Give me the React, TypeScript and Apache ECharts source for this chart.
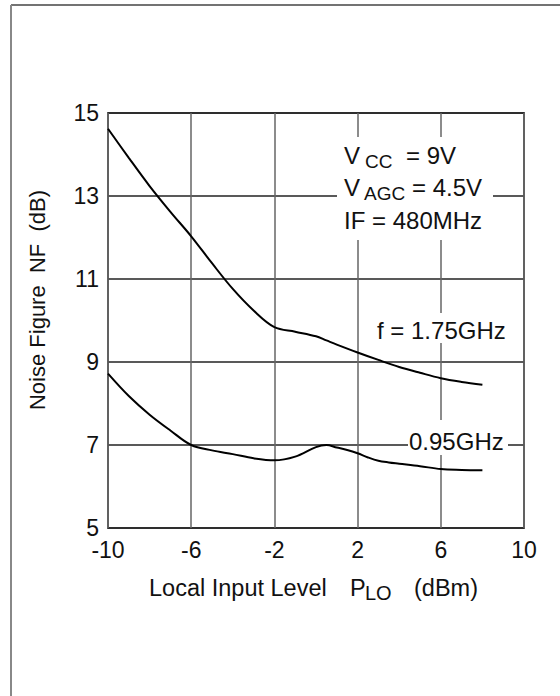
import React, { useEffect, useRef } from "react";
import * as echarts from "echarts";

const xValues = [-10, -9, -8, -7, -6, -5, -4, -3, -2, -1, 0, 0.5, 1, 2, 3, 4, 5, 6, 7, 8];
const nf175 = [14.62, 13.92, 13.24, 12.62, 12.03, 11.38, 10.76, 10.24, 9.84, 9.73, 9.62, 9.52, 9.42, 9.23, 9.05, 8.88, 8.74, 8.61, 8.52, 8.45];

const xLow = [-10, -9, -8, -7, -6, -5, -4, -3, -2, -1, 0, 0.5, 1, 1.5, 2, 2.5, 3, 3.5, 4, 5, 6, 7, 8];
const nf095 = [8.72, 8.18, 7.73, 7.35, 7.0, 6.87, 6.78, 6.68, 6.63, 6.72, 6.95, 7.0, 6.94, 6.88, 6.8, 6.7, 6.62, 6.58, 6.55, 6.49, 6.42, 6.4, 6.39];

const xTicks = { min: -10, max: 10, interval: 4 };
const yTicks = { min: 5, max: 15, interval: 2 };

const FONT = '"Liberation Sans", Arial, Helvetica, sans-serif';
const AXIS_FONT = "Liberation Sans";

export default function App() {
  const ref = useRef<HTMLDivElement>(null);
  useEffect(() => {
    if (!ref.current) return;
    const chart = echarts.init(ref.current, undefined, { renderer: "svg" });
    const txt = (text: string, x: number, y: number, size: number, extra: any = {}) => ({
      type: "text",
      x,
      y,
      z: 20,
      style: { text, fill: "#111", font: `${size}px ${FONT}`, textAlign: "left", verticalAlign: "middle", ...extra },
    });
    chart.setOption({
      animation: false,
      backgroundColor: "#fff",
      grid: { left: 108, right: 36, top: 113, bottom: 168, show: true, borderColor: "#555", borderWidth: 2, backgroundColor: "transparent" },
      xAxis: {
        type: "value",
        min: xTicks.min,
        max: xTicks.max,
        interval: xTicks.interval,
        axisLine: { show: false },
        axisTick: { show: false },
        splitLine: { show: true, lineStyle: { color: "#666", width: 1.5 } },
        axisLabel: { fontSize: 23, fontFamily: AXIS_FONT, color: "#111", margin: 22, verticalAlign: "middle" },
      },
      yAxis: {
        type: "value",
        min: yTicks.min,
        max: yTicks.max,
        interval: yTicks.interval,
        axisLine: { show: false },
        axisTick: { show: false },
        splitLine: { show: true, lineStyle: { color: "#222", width: 1.5 } },
        axisLabel: { fontSize: 23, fontFamily: AXIS_FONT, color: "#111", margin: 9 },
      },
      series: [
        {
          type: "line",
          data: xValues.map((x, i) => [x, nf175[i]]),
          smooth: 0.35,
          showSymbol: false,
          lineStyle: { color: "#000", width: 2 },
          z: 5,
        },
        {
          type: "line",
          data: xLow.map((x, i) => [x, nf095[i]]),
          smooth: 0.35,
          showSymbol: false,
          lineStyle: { color: "#000", width: 2 },
          z: 5,
        },
      ],
      graphic: [
        { type: "line", shape: { x1: 11, y1: 5, x2: 560, y2: 5 }, style: { stroke: "#444", lineWidth: 1.5 }, z: 30 },
        { type: "line", shape: { x1: 11, y1: 5, x2: 11, y2: 696 }, style: { stroke: "#888", lineWidth: 2 }, z: 30 },
        { type: "rect", shape: { x: 337, y: 137, width: 156, height: 103 }, style: { fill: "#fff" }, z: 10 },
        { type: "rect", shape: { x: 376, y: 313, width: 133, height: 30 }, style: { fill: "#fff" }, z: 10 },
        { type: "rect", shape: { x: 408, y: 420, width: 100, height: 35 }, style: { fill: "#fff" }, z: 10 },
        txt("V", 344, 155, 24),
        txt("CC", 365, 161, 19),
        txt("= 9V", 406, 155, 24),
        txt("V", 344, 187, 24),
        txt("AGC", 364, 193, 19),
        txt("= 4.5V", 412, 187, 24),
        txt("IF = 480MHz", 344, 220, 24),
        txt("f = 1.75GHz", 377, 330, 24),
        txt("0.95GHz", 409, 441, 24),
        txt("Local Input Level", 149, 588, 23.5),
        txt("P", 350, 588, 23.5),
        txt("LO", 365, 593, 20),
        txt("(dBm)", 414, 588, 23.5),
        {
          type: "text",
          x: 37,
          y: 300,
          rotation: Math.PI / 2,
          z: 20,
          style: { text: "Noise Figure  NF  (dB)", fill: "#111", font: `22px ${FONT}`, textAlign: "center", verticalAlign: "middle" },
        },
      ],
    });
    return () => chart.dispose();
  }, []);
  return <div ref={ref} style={{ width: 560, height: 696, position: "absolute", left: 0, top: 0 }} />;
}
